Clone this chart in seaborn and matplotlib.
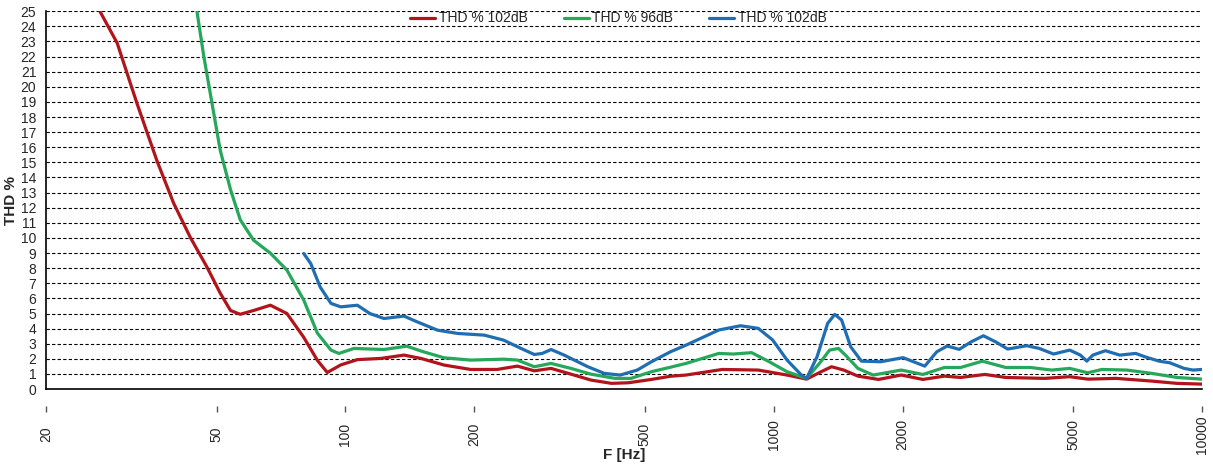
import numpy as np
import pandas as pd
import matplotlib.pyplot as plt
import seaborn as sns
from matplotlib.ticker import NullLocator

sns.set_style("white")
plt.rcParams['font.family'] = ['Liberation Sans', 'DejaVu Sans']

# datos (frecuencia en Hz, THD en %)
frec_rojo = [26.7, 29.3, 32.6, 36.3, 39.7, 43.4, 47.5, 51, 53.9, 56.8, 61, 66.8, 73, 79.8, 86, 90.7,
             97.5, 106.6, 121, 137, 150, 170, 196, 226, 252, 276, 302, 336, 374, 418, 458, 518, 574,
             624, 758, 920, 1074, 1193, 1290, 1364, 1457, 1572, 1756, 1984, 2230, 2502, 2730, 3112,
             3480, 4290, 4908, 5410, 6300, 7636, 8738, 10000]
thd_rojo = [25, 22.9, 18.9, 15.1, 12.3, 10.05, 8.07, 6.35, 5.2, 4.95, 5.2, 5.55, 5.0, 3.45, 1.9, 1.1,
            1.6, 1.95, 2.03, 2.25, 2.03, 1.59, 1.3, 1.3, 1.52, 1.21, 1.37, 0.99, 0.6, 0.38, 0.42, 0.64,
            0.85, 0.93, 1.3, 1.26, 0.93, 0.66, 1.15, 1.48, 1.26, 0.86, 0.64, 0.93, 0.64, 0.86, 0.77,
            0.97, 0.77, 0.71, 0.82, 0.66, 0.71, 0.53, 0.38, 0.33]

frec_verde = [45, 46.7, 48.8, 51, 53.9, 56.8, 61, 66.8, 73, 79.9, 86, 92.5, 96.5, 104.7, 123, 139, 152,
              170, 196, 234, 252, 276, 302, 336, 374, 426, 464, 518, 574, 624, 744, 804, 888, 976,
              1074, 1193, 1278, 1350, 1416, 1470, 1572, 1706, 1984, 2230, 2502, 2730, 3070, 3480,
              3972, 4456, 4908, 5410, 5834, 6676, 7636, 8738, 10000]
thd_verde = [25, 22, 18.9, 15.8, 13.2, 11.2, 9.85, 8.99, 7.87, 5.89, 3.7, 2.58, 2.36, 2.69, 2.62, 2.84,
             2.47, 2.07, 1.92, 1.98, 1.92, 1.48, 1.7, 1.37, 0.99, 0.71, 0.71, 1.15, 1.45, 1.7, 2.36,
             2.32, 2.41, 1.81, 1.15, 0.71, 1.7, 2.58, 2.69, 2.25, 1.37, 0.93, 1.26, 0.97, 1.43, 1.43,
             1.85, 1.43, 1.43, 1.26, 1.37, 1.08, 1.3, 1.26, 1.04, 0.77, 0.66]

frec_azul = [79.9, 83, 87.3, 92.5, 97.5, 106.6, 114, 123, 137, 147, 164, 183, 211, 234, 257, 276, 288,
             302, 324, 368, 402, 438, 480, 518, 574, 624, 744, 836, 920, 994, 1074, 1160, 1193, 1262,
             1336, 1388, 1440, 1512, 1602, 1776, 2004, 2252, 2402, 2540, 2710, 2892, 3086, 3294, 3516,
             3896, 4168, 4500, 4908, 5198, 5382, 5558, 5948, 6424, 7002, 7352, 7934, 8410, 9078, 9524,
             10000]
thd_azul = [8.97, 8.3, 6.75, 5.67, 5.44, 5.55, 5.0, 4.67, 4.83, 4.45, 3.9, 3.68, 3.57, 3.24, 2.69, 2.29,
            2.36, 2.62, 2.25, 1.48, 1.04, 0.93, 1.26, 1.81, 2.47, 2.91, 3.91, 4.19, 4.02, 3.25, 1.92,
            0.93, 0.71, 2.14, 4.35, 4.94, 4.57, 2.8, 1.85, 1.81, 2.08, 1.52, 2.47, 2.85, 2.63, 3.13,
            3.53, 3.13, 2.65, 2.87, 2.69, 2.32, 2.58, 2.25, 1.85, 2.25, 2.54, 2.25, 2.36, 2.14, 1.85,
            1.74, 1.37, 1.26, 1.3]

etiquetas = ["THD % 102dB", "THD % 96dB", "THD % 102dB"]
colores = ["#B0151B", "#25A85A", "#1F6DB2"]
ticks_x = [20, 50, 100, 200, 500, 1000, 2000, 5000, 10000]

fig, ax = plt.subplots(figsize=(12.13, 4.66), dpi=100)
fig.subplots_adjust(left=0.038, right=0.991, top=0.976, bottom=0.165)

series = [(frec_rojo, thd_rojo), (frec_verde, thd_verde), (frec_azul, thd_azul)]
for (f, t), lab, c in zip(series, etiquetas, colores):
    sns.lineplot(x=f, y=t, color=c, lw=2.3, label=lab, ax=ax, sort=False)

ax.set_xscale('log')
ax.set_xlim(20, 10000)
ax.set_ylim(0, 25)
ax.set_yticks(range(0, 26))
ax.yaxis.grid(True, linestyle=(0, (3, 2)), color='black', lw=0.8)
ax.xaxis.grid(False)
ax.set_xticks(ticks_x)
ax.set_xticklabels([str(t) for t in ticks_x], rotation=90, va='center')
ax.xaxis.set_minor_locator(NullLocator())
ax.tick_params(axis='x', length=0, pad=32.5, labelsize=10)
ax.tick_params(axis='y', length=0, pad=7, labelsize=10)

# marcas cortas separadas del eje, como en el original
marcas = ax.secondary_xaxis(-0.045)
marcas.set_xticks(ticks_x)
marcas.xaxis.set_minor_locator(NullLocator())
marcas.set_xticklabels([])
marcas.tick_params(axis='x', length=4, width=1, color='#555555', direction='out')
marcas.spines['bottom'].set_visible(False)

for s in ['top', 'right']:
    ax.spines[s].set_visible(False)
for s in ['left', 'bottom']:
    ax.spines[s].set_color('black')
    ax.spines[s].set_linewidth(1.2)

ax.set_ylabel("THD %", fontweight='bold', fontsize=11, labelpad=2)
ax.set_xlabel("F [Hz]", fontweight='bold', fontsize=11)
ax.xaxis.set_label_coords(0.5, -0.155)

ax.legend(loc='center', bbox_to_anchor=(0.495, 0.981), ncol=3, frameon=False, fontsize=10,
          handlelength=1.8, handletextpad=0.25, columnspacing=2.6, borderpad=0)

plt.savefig("out.png", dpi=100)
plt.close()
